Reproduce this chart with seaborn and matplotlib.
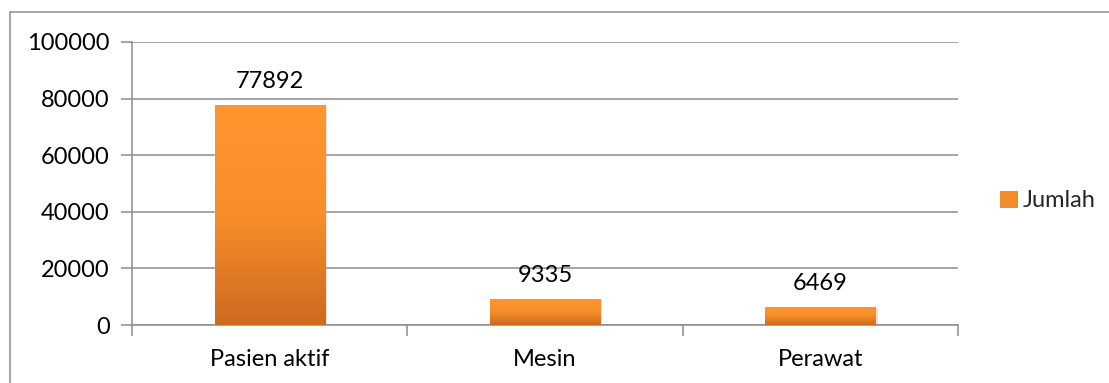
import numpy as np
import pandas as pd
import matplotlib
matplotlib.use("Agg")
import matplotlib.pyplot as plt
import seaborn as sns
from matplotlib.colors import LinearSegmentedColormap
from matplotlib.patches import Rectangle

categories = ["Pasien aktif", "Mesin", "Perawat"]
jumlah = [77892, 9335, 6469]
y_ticks = [0, 20000, 40000, 60000, 80000, 100000]
series_name = "Jumlah"

sns.set_theme(style="white")
plt.rcParams["font.family"] = ["Lato", "DejaVu Sans"]
FS = 17

df = pd.DataFrame({"Kategori": categories, series_name: jumlah})

fig = plt.figure(figsize=(11.09, 3.83), dpi=100)
ax = fig.add_axes([132 / 1109, 1 - 325 / 383, (958 - 132) / 1109, (325 - 42) / 383])

sns.barplot(data=df, x="Kategori", y=series_name, color="#F28C28", width=0.4,
            ax=ax, zorder=3, saturation=1)

ax.set_xlim(-0.5, len(categories) - 0.5)
ax.set_ylim(0, 100000)
ax.set_yticks(y_ticks)
ax.set_yticklabels([str(v) for v in y_ticks])
ax.set_xlabel("")
ax.set_ylabel("")

# vertical orange gradient on each bar
cmap = LinearSegmentedColormap.from_list("bar", ["#CC6A1E", "#F88E2A", "#FF962E"])
grad = np.linspace(0, 1, 256).reshape(-1, 1)
for p in ax.patches:
    x0, w, h = p.get_x(), p.get_width(), p.get_height()
    # soft shadow
    shadow = Rectangle((x0 + 0.008, -600), w, h, facecolor="#000000", alpha=0.12,
                       edgecolor="none", zorder=2.5)
    ax.add_patch(shadow)
    im = ax.imshow(grad, cmap=cmap, origin="lower", aspect="auto",
                   extent=(x0, x0 + w, 0, h), zorder=3.5)
    im.set_clip_path(p)
    ax.text(x0 + w / 2, h + 4500, f"{int(h)}", ha="center", va="bottom",
            fontsize=FS, color="#000000", zorder=5)

# grid and axes in Office-style gray
ax.yaxis.grid(True, color="#8C8C8C", linewidth=1.1, zorder=0)
ax.xaxis.grid(False)
for s in ["top", "right"]:
    ax.spines[s].set_visible(False)
for s in ["left", "bottom"]:
    ax.spines[s].set_color("#8C8C8C")
    ax.spines[s].set_linewidth(1.1)

ax.set_xticks(np.arange(-0.5, len(categories), 1.0), minor=True)
ax.tick_params(axis="x", which="minor", length=8, color="#8C8C8C", width=1.1, bottom=True)
ax.tick_params(axis="x", which="major", length=0, pad=17, labelsize=FS, labelcolor="#000000")
ax.tick_params(axis="y", which="major", length=8, color="#8C8C8C", width=1.1, left=True,
               pad=8, labelsize=FS, labelcolor="#000000")

# legend
handle = Rectangle((0, 0), 1, 1, facecolor="#F28C28", edgecolor="none")
fig.legend([handle], [series_name], loc="center left",
           bbox_to_anchor=(1000 / 1109, 1 - 201 / 383), frameon=False,
           fontsize=FS, handlelength=0.75, handleheight=0.75, handletextpad=0.2,
           borderaxespad=0, borderpad=0)

# outer chart border
fig.add_artist(Rectangle((10 / 1109, -0.01), 1.05, 1 - 12 / 383 + 0.01,
                         transform=fig.transFigure, fill=False,
                         edgecolor="#8C8C8C", linewidth=1.1))

fig.savefig("out.png", dpi=100, facecolor="white")
